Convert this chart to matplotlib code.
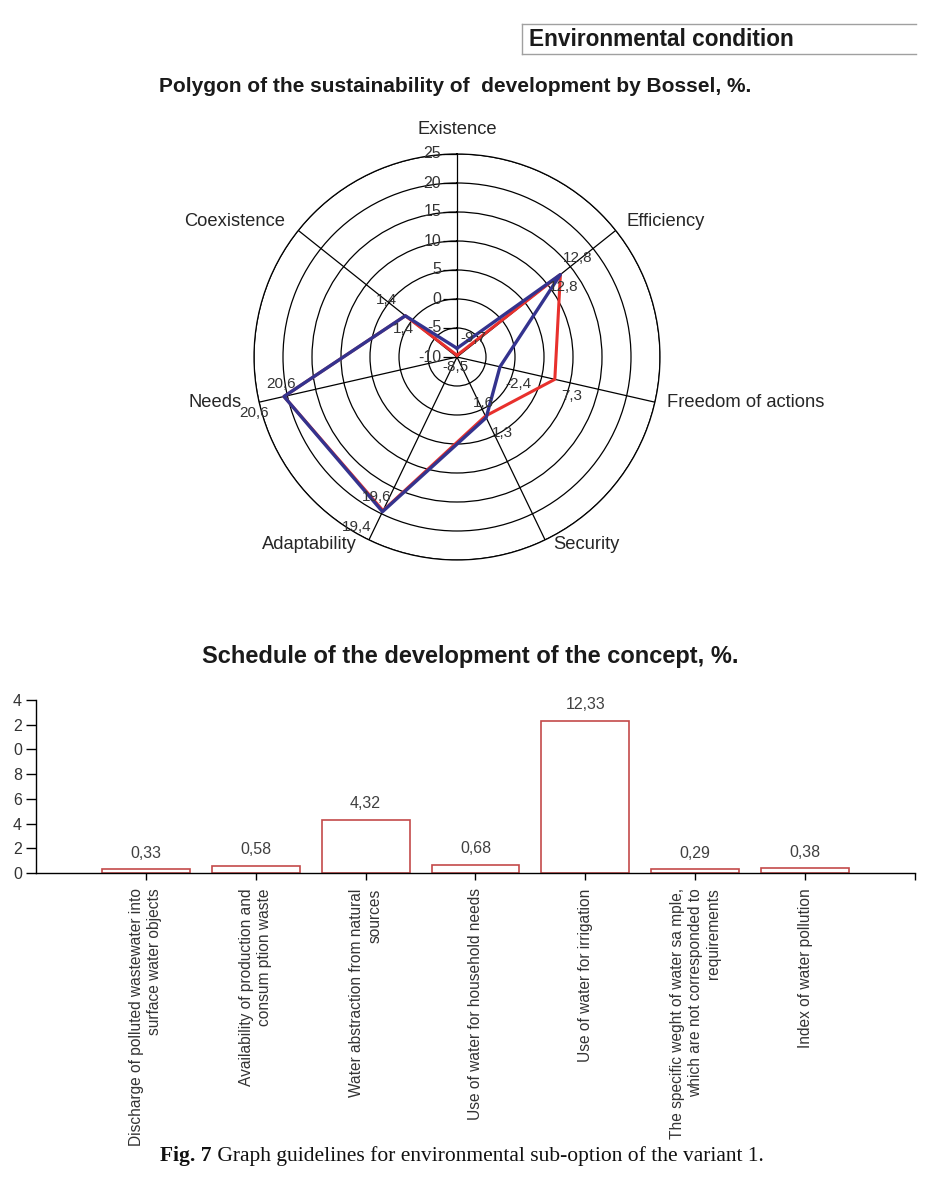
import numpy as np
import matplotlib
matplotlib.use("Agg")
import matplotlib.pyplot as plt
from matplotlib.lines import Line2D
from matplotlib.transforms import offset_copy

plt.rcParams['font.family'] = ['Liberation Sans', 'DejaVu Sans']

# radar data
axes_names = ['Existence', 'Efficiency', 'Freedom of actions', 'Security',
              'Adaptability', 'Needs', 'Coexistence']
red_vals = [-9.7, 12.8, 7.3, 1.3, 19.4, 20.6, 1.4]
blue_vals = [-8.5, 12.8, -2.4, 1.6, 19.6, 20.6, 1.4]
r_ticks = [-10, -5, 0, 5, 10, 15, 20, 25]

# bar data
bar_labels = ['Discharge of polluted wastewater into\nsurface water objects',
              'Availability of production and\nconsum ption waste',
              'Water abstraction from natural\nsources',
              'Use of water for household needs',
              'Use of water for irrigation',
              'The specific weght of water sa mple,\nwhich are not corresponded to\nrequirements',
              'Index of water pollution']
bar_vals = [0.33, 0.58, 4.32, 0.68, 12.33, 0.29, 0.38]
y_ticks = [0, 2, 4, 6, 8, 10, 12, 14]
y_ticklabels = ['0', '2', '4', '6', '8', '0', '2', '4']

W, H = 939, 1199
fig = plt.figure(figsize=(W / 100, H / 100), dpi=100)
txt = '#262626'


def fx(px):
    return px / W


def fy(py):
    return 1 - py / H


# ---- header box
fig.add_artist(Line2D([fx(522), fx(916)], [fy(24), fy(24)], color='#a0a0a0', lw=1))
fig.add_artist(Line2D([fx(522), fx(916)], [fy(54), fy(54)], color='#a0a0a0', lw=1))
fig.add_artist(Line2D([fx(522), fx(522)], [fy(24), fy(54)], color='#a0a0a0', lw=1))
fig.text(fx(529), fy(39), 'Environmental condition', fontsize=16.3, fontweight='bold',
         color='#1a1a1a', ha='left', va='center')

fig.text(fx(455), fy(87), 'Polygon of the sustainability of  development by Bossel, %.',
         fontsize=15, fontweight='bold', color='#1a1a1a', ha='center', va='center')

# ---- radar
cx, cy, R = 457, 357, 203
ax = fig.add_axes([fx(cx - R), fy(cy + R), 2 * R / W, 2 * R / H], projection='polar')
ax.set_theta_zero_location('N')
ax.set_theta_direction(-1)
ang = np.arange(len(axes_names)) * 2 * np.pi / len(axes_names)
ax.set_ylim(-10, 25)
ax.set_yticks(r_ticks[1:])
ax.set_yticklabels([])
ax.set_xticks(ang)
ax.set_xticklabels([])
ax.grid(True, color='black', lw=0.9, ls='-')
ax.spines['polar'].set_color('black')
ax.spines['polar'].set_linewidth(0.9)

# radial scale on the Existence spoke
tick_tr = offset_copy(ax.transData, fig=fig, x=-5, y=0, units='points')
for v in r_ticks:
    ax.plot([0], [v], marker='_', ms=10, mew=0.9, color='black', transform=tick_tr,
            clip_on=False, zorder=3)
    ax.annotate(str(v), xy=(0, v), xytext=(-11.5, 0), textcoords='offset points',
                ha='right', va='center', fontsize=11.5, color='#333333')

# category label offsets (px) and alignments
cat_off = [(0, 24), (11, 9), (12, 0), (8, -5), (-12, -5), (-17, 0), (-13, 9)]
cat_ha = ['center', 'left', 'left', 'left', 'right', 'right', 'right']
for a, name, (dx, dy), ha in zip(ang, axes_names, cat_off, cat_ha):
    ax.annotate(name, xy=(a, 25), xytext=(dx * 0.72, dy * 0.72), textcoords='offset points',
                ha=ha, va='center', fontsize=13.2, color=txt, annotation_clip=False)

a_closed = np.append(ang, ang[0])
ax.plot(a_closed, red_vals + red_vals[:1], color='#e8302c', lw=2.2, zorder=4)
ax.plot(a_closed, blue_vals + blue_vals[:1], color='#34338e', lw=2.4, zorder=5)

red_off = [(16, -17), (3, 12), (17, 17), (17, 17), (-26, 16), (-30, 17), (-2, 13)]
blue_off = [(-2, 19), (17, -17), (18, 17), (-3, -15), (-6, -15), (-3, -12), (-19, -16)]
for vals, offs in [(red_vals, red_off), (blue_vals, blue_off)]:
    for a, v, (dx, dy) in zip(ang, vals, offs):
        ax.annotate(('%g' % v).replace('.', ','), xy=(a, v),
                    xytext=(dx * 0.72, -dy * 0.72), textcoords='offset points',
                    ha='center', va='center', fontsize=11, color='#333333', zorder=6)

# ---- bar chart
fig.text(fx(470), fy(657), 'Schedule of the development of the concept, %.',
         fontsize=17, fontweight='bold', color='#1a1a1a', ha='center', va='center')

ax2 = fig.add_axes([fx(36), fy(873), 879 / W, (873 - 700) / H])
xs = np.arange(1, len(bar_vals) + 1)
ax2.bar(xs, bar_vals, width=0.8, facecolor='white', edgecolor='#c44a4a', lw=1.2)
for x, v in zip(xs, bar_vals):
    ax2.annotate(('%.2f' % v).replace('.', ','), xy=(x, v), xytext=(0, 6),
                 textcoords='offset points', ha='center', va='bottom',
                 fontsize=11.5, color='#404040')
ax2.set_xlim(0, 8)
ax2.set_ylim(0, 14)
ax2.set_yticks(y_ticks)
ax2.set_yticklabels(y_ticklabels, fontsize=11.5, color='#333333')
ax2.set_xticks(list(xs) + [8])
ax2.set_xticklabels(bar_labels + [''], rotation=90, ha='center', va='top',
                    fontsize=11.2, color='#333333', linespacing=1.25)
for t in ax2.get_xticklabels():
    t.set_multialignment('right')
ax2.tick_params(axis='y', length=7, width=1, pad=3)
ax2.tick_params(axis='x', length=5, width=1, pad=6)
for s in ['top', 'right']:
    ax2.spines[s].set_visible(False)
for s in ['left', 'bottom']:
    ax2.spines[s].set_linewidth(1)

# ---- caption
t1 = fig.text(fx(160), fy(1156), 'Fig. 7', fontsize=15.5, fontweight='bold',
              family='Liberation Serif', ha='left', va='center', color='#111111')
fig.canvas.draw()
bb = t1.get_window_extent()
fig.text(bb.x1 / W, fy(1156), ' Graph guidelines for environmental sub-option of the variant 1.',
         fontsize=15.5, family='Liberation Serif', color='#111111', ha='left', va='center')

fig.savefig('out.png', dpi=100, facecolor='white')
